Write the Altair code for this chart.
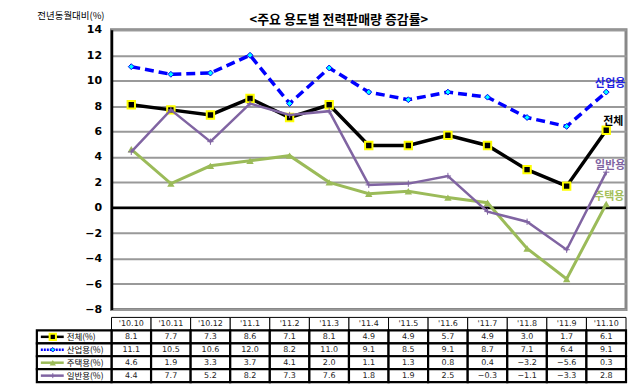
import altair as alt
import pandas as pd

months = ["'10.10", "'10.11", "'10.12", "'11.1", "'11.2", "'11.3", "'11.4",
          "'11.5", "'11.6", "'11.7", "'11.8", "'11.9", "'11.10"]
total = [8.1, 7.7, 7.3, 8.6, 7.1, 8.1, 4.9, 4.9, 5.7, 4.9, 3.0, 1.7, 6.1]
industrial = [11.1, 10.5, 10.6, 12.0, 8.2, 11.0, 9.1, 8.5, 9.1, 8.7, 7.1, 6.4, 9.1]
residential = [4.6, 1.9, 3.3, 3.7, 4.1, 2.0, 1.1, 1.3, 0.8, 0.4, -3.2, -5.6, 0.3]
general = [4.4, 7.7, 5.2, 8.2, 7.3, 7.6, 1.8, 1.9, 2.5, -0.3, -1.1, -3.3, 2.8]

series_names = ["전체", "산업용", "주택용", "일반용"]
row_labels = ["전체(%)", "산업용(%)", "주택용(%)", "일반용(%)"]
colors = ["#000000", "#0000FF", "#9BBB59", "#8064A2"]
label_colors = ["#000000", "#1F1FE0", "#A5C05A", "#8064A2"]
title_text = "<주요 용도별 전력판매량 증감률>"
y_title = "전년동월대비(%)"
y_ticks = [-8, -6, -4, -2, 0, 2, 4, 6, 8, 10, 12, 14]
header_key = "hdr"

FONT = "Noto Sans CJK KR"
NUMFONT = "DejaVu Sans"

all_values = [total, industrial, residential, general]
recs = []
for s, lab, vals in zip(series_names, row_labels, all_values):
    for m, v in zip(months, vals):
        recs.append({"series": s, "row": lab, "month": m, "value": v})
df = pd.DataFrame(recs)
last_df = df[df["month"] == months[-1]].copy()

x_pt = alt.X("month:N", sort=months,
             scale=alt.Scale(type="point", domain=months, padding=0.5), axis=None)
y_q = alt.Y("value:Q", scale=alt.Scale(domain=[-8, 14], nice=False),
            axis=alt.Axis(values=y_ticks, grid=True, gridColor="#999999", gridWidth=2,
                          domainColor="#000000", domainWidth=2.5, ticks=False,
                          labelFontSize=11, labelFontWeight="bold", labelFont=NUMFONT,
                          labelPadding=10, labelColor="#000000",
                          title=y_title, titleAngle=0, titleX=-75, titleY=-14,
                          titleAlign="left", titleBaseline="middle",
                          titleFontSize=9.5, titleFontWeight="normal", titleFont=FONT,
                          titleColor="#000000"))

layers = [alt.Chart(pd.DataFrame({"value": [0]})).mark_rule(color="black", strokeWidth=2.5).encode(y=y_q)]

line_styles = {
    "전체": dict(strokeWidth=3.5),
    "산업용": dict(strokeWidth=3.5, strokeDash=[9, 5]),
    "주택용": dict(strokeWidth=3),
    "일반용": dict(strokeWidth=2.5),
}
point_styles = {
    "전체": dict(shape="square", size=55, filled=True, fill="#000000", stroke="#FFFF00", strokeWidth=2, opacity=1),
    "산업용": dict(shape="diamond", size=35, filled=True, fill="#00FFFF", stroke="#0000FF", strokeWidth=1, opacity=1),
    "주택용": dict(shape="triangle-up", size=55, filled=True, fill="#9BBB59", opacity=1),
    "일반용": dict(shape="M-1,0L1,0M0,-1L0,1", size=40, filled=False, stroke="#8064A2", strokeWidth=1, opacity=1),
}
label_offsets = {
    "전체": dict(dx=7, dy=-8, fontWeight="bold"),
    "산업용": dict(dx=4, dy=-8, fontWeight="bold"),
    "주택용": dict(dx=3, dy=-7, fontWeight="bold"),
    "일반용": dict(dx=4, dy=-6, fontWeight="bold"),
}

for s, c, lc in zip(series_names, colors, label_colors):
    base = alt.Chart(df).transform_filter(alt.datum.series == s)
    layers.append(base.mark_line(color=c, **line_styles[s]).encode(x=x_pt, y=y_q))
    layers.append(base.mark_point(**point_styles[s]).encode(x=x_pt, y=y_q))
    layers.append(alt.Chart(last_df).transform_filter(alt.datum.series == s)
                  .mark_text(color=lc, fontSize=11, font=FONT, **label_offsets[s])
                  .encode(x=x_pt, y=y_q, text="series:N"))

top = alt.layer(*layers).properties(
    width=517, height=281,
    title=alt.TitleParams(title_text, fontSize=13, fontWeight="bold", font=FONT,
                          anchor="middle", offset=4, dy=20, dx=-30, color="#000000"),
    view=alt.ViewBackground(stroke="#888888", strokeWidth=3),
)

# ---------- table ----------
trows = [header_key] + row_labels
x_b = alt.X("month:N", sort=months,
            scale=alt.Scale(type="band", domain=months, paddingInner=0, paddingOuter=0), axis=None)
y_b = alt.Y("row:N", sort=trows,
            scale=alt.Scale(type="band", domain=trows, paddingInner=0, paddingOuter=0), axis=None)

hdr_df = pd.DataFrame({"month": months, "row": [header_key] * len(months), "txt": months})
body_df = df.copy()
leg_df = pd.DataFrame({"row": row_labels, "series": series_names})

tlayers = [
    alt.Chart(hdr_df).mark_rect(fill="white", stroke="black", strokeWidth=1).encode(x=x_b, y=y_b),
    alt.Chart(body_df).mark_rect(fill="white", stroke="black", strokeWidth=2.2).encode(x=x_b, y=y_b),
    alt.Chart(leg_df).mark_rect(fill="white", stroke="black", strokeWidth=2.2)
        .encode(x=alt.value(-75), x2=alt.value(0), y=y_b),
    alt.Chart(hdr_df).mark_text(fontSize=8, font=NUMFONT, color="#222222")
        .encode(x=x_b, y=y_b, text="txt:N"),
    alt.Chart(body_df).mark_text(fontSize=8, font=NUMFONT, color="#222222")
        .encode(x=x_b, y=y_b, text=alt.Text("value:Q", format=".1f")),
    alt.Chart(leg_df).mark_text(fontSize=8.5, font=FONT, align="left", color="#000000")
        .encode(x=alt.value(-45), y=y_b, text="row:N"),
]
for s, c in zip(series_names, colors):
    lb = alt.Chart(leg_df).transform_filter(alt.datum.series == s)
    st = dict(line_styles[s])
    st["strokeWidth"] = min(st["strokeWidth"], 2.5)
    if "strokeDash" in st:
        st["strokeDash"] = [2, 1]
    tlayers.append(lb.mark_rule(color=c, **st).encode(x=alt.value(-71), x2=alt.value(-48), y=y_b))
    ps = dict(point_styles[s])
    ps["size"] = max(20, ps["size"] - 15)
    tlayers.append(lb.mark_point(**ps).encode(x=alt.value(-59), y=y_b))

table = alt.layer(*tlayers).properties(
    width=517, height=65,
    view=alt.ViewBackground(stroke="transparent"),
)

chart = alt.vconcat(top, table, spacing=0).properties(
    padding={"left": 27, "top": 0, "right": 0, "bottom": 2},
    background="white",
).configure(font=FONT)

chart.save("out.html", embed_options={"renderer": "svg", "actions": False})
